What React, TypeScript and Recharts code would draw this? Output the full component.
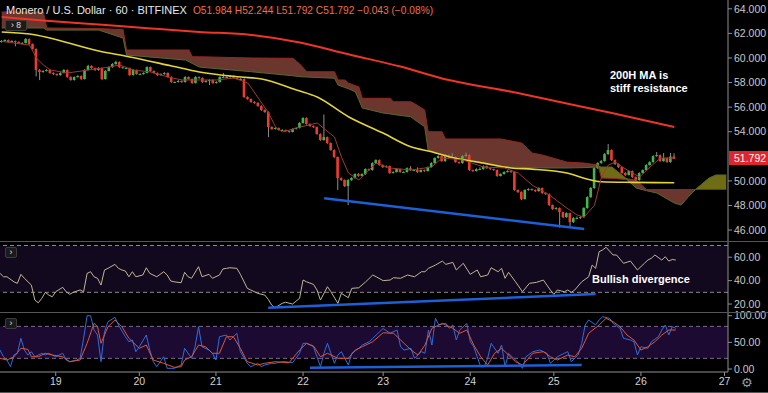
import React from "react";
import { ComposedChart, Bar, Line, Area, XAxis, YAxis, ReferenceArea, ReferenceLine } from "recharts";

// hourly slots, 0..209 (last candle at 194, cloud runs ahead to 209)
const SLOTS = 210;
const UP = "#3fb84b";
const DOWN = "#f03a2e";
const AXIS = "#8f8f8f";
const TICK = { fill: "#c9c9c9", fontSize: 10.5 };

const dayTicks = [16, 40, 62, 87, 110, 135, 159, 184, 208];
const dayLabels = ["19", "20", "21", "22", "23", "24", "25", "26", "27"];

const opens = [
  61.3, 61.38, 61.46, 61.3, 61.38, 61.3, 61.22, 61.22, 61.54, 61.13,
  60.73, 59.02, 58.86, 58.94, 59.02, 58.78, 58.69, 58.61, 58.78, 59.02,
  58.45, 58.21, 58.45, 58.53, 58.29, 59.02, 59.35, 59.18, 59.02, 59.18,
  58.29, 58.94, 59.26, 59.51, 59.67, 59.26, 59.18, 59.18, 58.61, 59.02,
  58.69, 58.69, 58.78, 59.26, 58.94, 58.78, 58.61, 58.69, 58.78, 58.45,
  58.04, 58.04, 58.13, 58.04, 58.45, 58.29, 57.96, 58.45, 58.37, 58.04,
  58.13, 58.21, 57.96, 58.04, 58.45, 58.45, 58.45, 58.53, 58.37, 58.29,
  58.29, 56.82, 56.66, 56.42, 56.34, 56.09, 55.77, 55.6, 54.38, 54.22,
  54.3, 54.14, 54.14, 54.06, 53.98, 54.22, 54.3, 54.71, 55.11, 54.63,
  54.46, 54.38, 53.81, 53.32, 53.56, 53.08, 52.51, 51.94, 50.23, 50.07,
  49.58, 50.07, 50.23, 50.56, 50.4, 50.56, 50.96, 50.88, 51.45, 51.69,
  51.29, 51.12, 51.2, 50.64, 50.72, 50.96, 50.72, 50.72, 51.04, 50.88,
  50.88, 50.72, 50.88, 50.8, 51.12, 51.45, 51.86, 52.02, 51.61, 52.1,
  51.94, 51.94, 51.53, 51.45, 52.02, 52.1, 50.88, 50.8, 50.96, 50.96,
  51.2, 51.04, 50.96, 50.88, 50.4, 50.56, 50.72, 50.8, 50.72, 49.26,
  49.09, 48.52, 49.26, 49.34, 49.26, 49.17, 49.42, 49.01, 48.93, 48.03,
  47.71, 47.79, 47.46, 47.05, 47.38, 46.64, 46.97, 46.97, 47.05, 47.79,
  48.68, 49.42, 51.04, 51.45, 51.61, 52.18, 52.51, 51.69, 51.37, 51.12,
  50.64, 50.48, 50.8, 50.31, 50.07, 50.64, 50.88, 51.29, 51.53, 52.02,
  52.1, 51.61, 51.86, 51.53, 51.98,
];

const closes = [
  61.38, 61.46, 61.3, 61.38, 61.3, 61.22, 61.22, 61.54, 61.13, 60.73,
  59.02, 58.86, 58.94, 59.02, 58.78, 58.69, 58.61, 58.78, 59.02, 58.45,
  58.21, 58.45, 58.53, 58.29, 59.02, 59.35, 59.18, 59.02, 59.18, 58.29,
  58.94, 59.26, 59.51, 59.67, 59.26, 59.18, 59.18, 58.61, 59.02, 58.69,
  58.69, 58.78, 59.26, 58.94, 58.78, 58.61, 58.69, 58.78, 58.45, 58.04,
  58.04, 58.13, 58.04, 58.45, 58.29, 57.96, 58.45, 58.37, 58.04, 58.13,
  58.21, 57.96, 58.04, 58.45, 58.45, 58.45, 58.53, 58.37, 58.29, 58.29,
  56.82, 56.66, 56.42, 56.34, 56.09, 55.77, 55.6, 54.38, 54.22, 54.3,
  54.14, 54.14, 54.06, 53.98, 54.22, 54.3, 54.71, 55.11, 54.63, 54.46,
  54.38, 53.81, 53.32, 53.56, 53.08, 52.51, 51.94, 50.23, 50.07, 49.58,
  50.07, 50.23, 50.56, 50.4, 50.56, 50.96, 50.88, 51.45, 51.69, 51.29,
  51.12, 51.2, 50.64, 50.72, 50.96, 50.72, 50.72, 51.04, 50.88, 50.88,
  50.72, 50.88, 50.8, 51.12, 51.45, 51.86, 52.02, 51.61, 52.1, 51.94,
  51.94, 51.53, 51.45, 52.02, 52.1, 50.88, 50.8, 50.96, 50.96, 51.2,
  51.04, 50.96, 50.88, 50.4, 50.56, 50.72, 50.8, 50.72, 49.26, 49.09,
  48.52, 49.26, 49.34, 49.26, 49.17, 49.42, 49.01, 48.93, 48.03, 47.71,
  47.79, 47.46, 47.05, 47.38, 46.64, 46.97, 46.97, 47.05, 47.79, 48.68,
  49.42, 51.04, 51.45, 51.61, 52.18, 52.51, 51.69, 51.37, 51.12, 50.64,
  50.48, 50.8, 50.31, 50.07, 50.64, 50.88, 51.29, 51.53, 52.02, 52.1,
  51.61, 51.86, 51.53, 51.98, 51.792,
];

const highs = [
  61.45, 61.52, 61.5, 61.44, 61.42, 61.35, 61.28, 61.62, 61.58, 61.18,
  60.78, 59.1, 59.0, 59.1, 59.08, 58.83, 58.74, 58.84, 59.1, 59.06,
  58.5, 58.5, 58.6, 58.58, 59.1, 59.45, 59.4, 59.22, 59.25, 59.22,
  59.0, 59.32, 59.58, 59.78, 59.72, 59.3, 59.24, 59.22, 59.08, 59.06,
  58.75, 58.84, 59.32, 59.3, 58.98, 58.82, 58.75, 58.84, 58.82, 58.5,
  58.1, 58.2, 58.17, 58.52, 58.5, 58.33, 58.52, 58.5, 58.42, 58.2,
  58.27, 58.25, 58.1, 58.52, 58.78, 58.52, 58.6, 58.58, 58.42, 58.36,
  58.34, 56.88, 56.7, 56.48, 56.4, 56.14, 55.82, 55.65, 54.44, 54.36,
  54.34, 54.2, 54.18, 54.1, 54.28, 54.36, 54.78, 55.18, 55.16, 54.68,
  54.5, 54.42, 53.86, 55.4, 53.6, 53.12, 52.56, 51.98, 50.28, 50.12,
  50.14, 50.3, 50.62, 50.62, 50.62, 51.02, 51.0, 51.52, 51.76, 51.74,
  51.34, 51.26, 51.24, 50.78, 51.02, 51.0, 50.78, 51.1, 51.2, 50.94,
  51.1, 50.94, 50.92, 51.18, 51.52, 51.92, 52.08, 52.06, 52.16, 52.14,
  52.25, 51.98, 51.58, 52.08, 52.3, 52.14, 50.92, 51.02, 51.1, 51.26,
  51.24, 51.08, 51.0, 50.92, 50.62, 50.78, 50.86, 50.84, 50.76, 49.3,
  49.14, 49.32, 49.4, 49.38, 49.3, 49.48, 49.46, 49.06, 48.98, 48.08,
  47.86, 47.84, 47.5, 47.44, 47.42, 47.04, 47.1, 47.12, 47.86, 48.75,
  49.5, 51.12, 51.52, 51.7, 52.26, 53.0, 52.56, 51.74, 51.42, 51.16,
  50.7, 50.86, 50.84, 50.36, 50.7, 50.94, 51.36, 51.6, 52.08, 52.35,
  52.14, 52.27, 51.9, 52.27, 52.244,
];

const lows = [
  61.25, 61.33, 61.25, 61.26, 60.95, 61.15, 61.15, 61.18, 61.08, 60.68,
  58.5, 58.2, 58.8, 58.9, 58.72, 58.62, 58.55, 58.56, 58.74, 58.4,
  58.15, 58.16, 58.4, 58.22, 58.24, 58.98, 59.12, 58.95, 58.96, 58.2,
  58.24, 58.9, 59.2, 59.45, 59.2, 59.12, 59.1, 58.55, 58.56, 58.64,
  58.62, 58.64, 58.74, 58.88, 58.72, 58.55, 58.56, 58.64, 58.4, 57.98,
  57.98, 58.0, 57.98, 58.0, 58.24, 57.9, 57.92, 58.3, 57.98, 58.0,
  57.8, 57.9, 57.92, 58.0, 58.4, 58.4, 58.4, 58.32, 58.24, 58.22,
  56.76, 56.6, 56.36, 56.28, 56.04, 55.7, 55.54, 53.56, 54.16, 54.18,
  54.08, 54.08, 54.0, 53.92, 53.94, 54.18, 54.26, 54.66, 54.58, 54.4,
  54.32, 53.76, 53.26, 53.28, 53.02, 52.45, 51.88, 49.26, 50.0, 49.5,
  48.03, 50.0, 50.18, 50.34, 50.36, 50.5, 50.82, 50.84, 51.4, 51.24,
  51.06, 51.08, 50.58, 50.6, 50.68, 50.66, 50.66, 50.68, 50.82, 50.82,
  50.66, 50.68, 50.74, 50.76, 51.08, 51.4, 51.82, 51.56, 51.56, 51.88,
  51.88, 51.48, 51.4, 51.4, 51.98, 50.82, 50.74, 50.76, 50.9, 50.92,
  50.98, 50.9, 50.82, 50.34, 50.36, 50.52, 50.68, 50.66, 49.2, 49.02,
  48.44, 48.48, 49.2, 49.2, 49.1, 49.12, 48.95, 48.86, 47.97, 47.64,
  47.66, 46.2, 46.98, 47.0, 46.3, 46.58, 46.9, 46.92, 47.0, 47.74,
  48.62, 49.36, 50.98, 51.4, 51.56, 52.12, 51.62, 51.3, 51.06, 50.58,
  50.42, 50.44, 50.25, 50.0, 50.02, 50.6, 50.84, 51.24, 51.48, 51.96,
  51.56, 51.56, 51.48, 51.48, 51.78,
];

// [slot, value]
const ma200: [number, number][] = [
  [0, 63.33], [12, 63.05], [28, 62.72], [43, 62.4], [57, 62.12], [72, 61.87], [86, 61.26],
  [100, 60.3], [115, 59.3], [129, 58.2], [147, 57.25], [161, 56.42], [176, 55.52], [194, 54.38],
];

const ma50: [number, number][] = [
  [0, 62.11], [8, 61.95], [28, 60.57], [37, 60.08], [49, 59.35], [57, 58.86], [69, 58.45],
  [75, 58.29], [85, 57.39], [91, 56.82], [100, 55.22], [110, 53.89], [118, 52.78], [124, 52.37],
  [129, 51.97], [139, 51.45], [147, 51.05], [153, 50.96], [163, 50.64], [170, 50.07],
  [173, 49.93], [182, 49.88], [194, 49.85],
];

const conversion: [number, number][] = [
  [0, 61.35], [8, 61.05], [10, 60.0], [12, 59.43], [14, 59.02], [19, 58.78], [25, 59.02],
  [31, 59.26], [34, 59.43], [38, 59.02], [43, 58.86], [48, 58.45], [52, 58.21], [57, 58.21],
  [62, 58.21], [67, 58.37], [71, 57.96], [74, 56.74], [77, 55.52], [79, 54.38], [81, 53.98],
  [86, 54.38], [91, 54.71], [96, 53.56], [98, 51.94], [100, 50.64], [103, 50.07], [105, 50.64],
  [108, 51.45], [112, 51.05], [118, 50.88], [124, 51.13], [127, 51.86], [133, 51.7],
  [139, 51.13], [145, 51.05], [149, 50.64], [153, 49.66], [158, 48.85], [163, 47.79],
  [166, 47.22], [168, 47.06], [171, 48.03], [173, 50.31], [175, 51.29], [177, 51.53],
  [179, 51.13], [182, 50.64], [184, 50.31], [187, 51.13], [190, 51.86], [194, 51.86],
];

// [slot, span A, span B]
const cloud: [number, number, number][] = [
  [0, 62.44, 63.74], [12, 62.44, 63.74], [13, 62.27, 62.44], [28, 62.27, 62.4], [35, 61.62, 62.3],
  [36, 60.24, 60.65], [53, 59.83, 60.65], [54, 59.7, 60.65], [55, 59.55, 60.1], [57, 59.26, 60.1],
  [72, 58.88, 60.0], [84, 58.55, 59.97], [86, 58.48, 59.5], [88, 58.45, 58.88], [96, 58.35, 58.88],
  [97, 57.8, 58.21], [99, 57.6, 58.21], [100, 57.5, 57.96], [102, 57.25, 57.75], [103, 56.6, 57.66],
  [104, 55.93, 56.72], [110, 55.52, 56.72], [112, 55.45, 56.72], [113, 55.4, 56.44],
  [118, 55.22, 56.44], [119, 55.0, 56.3], [122, 54.41, 55.77], [123, 52.51, 54.0],
  [127, 52.1, 54.0], [128, 52.0, 53.41], [129, 51.94, 53.41], [144, 51.13, 53.41],
  [150, 51.1, 53.08], [153, 51.08, 52.27], [156, 51.05, 52.1], [158, 51.05, 51.94],
  [163, 51.05, 51.53], [168, 51.08, 51.45], [172, 51.13, 51.29], [173, 51.13, 50.23],
  [176, 51.13, 50.2], [180, 50.23, 50.12], [183, 49.42, 50.07], [186, 49.2, 49.3],
  [189, 49.01, 49.3], [194, 48.2, 49.3], [196, 48.03, 49.3], [198, 48.69, 49.3],
  [200, 49.26, 49.3], [204, 50.23, 49.3], [206, 50.48, 49.3], [209, 50.48, 49.3],
];

const priceTrend: [number, number][] = [[93, 48.58], [168, 46.08]];

const rsi: [number, number][] = [
  [0, 46.2], [1, 43.3], [2, 43.3], [4, 39], [5, 37.7], [6, 45.4], [7, 42], [9, 36.2], [10, 23.4],
  [11, 21.1], [12, 24.9], [13, 30], [14, 27.7], [15, 26.2], [16, 30.5], [18, 34.3], [19, 30.5],
  [20, 28.3], [21, 30], [23, 32], [24, 30.5], [25, 46.2], [26, 47.6], [27, 43.3], [28, 42],
  [29, 36.2], [30, 49.1], [31, 50.5], [33, 53.9], [34, 50.5], [35, 49.1], [36, 48.2], [37, 43.3],
  [38, 47.6], [39, 43.3], [41, 44.8], [42, 51], [43, 46.2], [45, 43.3], [47, 47.6], [48, 44.8],
  [49, 39.7], [50, 39], [52, 38.2], [53, 47.1], [54, 43.3], [55, 42], [57, 51.9], [58, 43.3],
  [60, 45.4], [61, 42], [63, 44.8], [64, 50], [65, 50.5], [66, 51], [68, 50.5], [69, 45.4],
  [71, 33.4], [72, 32], [74, 29.1], [76, 27.7], [77, 24], [78, 19.1], [79, 16.8], [81, 20.6],
  [82, 21.5], [84, 20], [86, 24.9], [87, 40.5], [88, 39], [90, 36.8], [91, 32], [92, 23.4],
  [94, 34.8], [95, 30.5], [97, 20.6], [98, 29.1], [100, 25.4], [101, 33.4], [103, 33.9],
  [105, 39], [107, 44.8], [108, 43.3], [110, 40], [112, 40.5], [113, 42.5], [115, 42],
  [117, 44.8], [119, 43.3], [121, 47.6], [122, 47.6], [123, 50.5], [125, 53.3], [127, 56.7],
  [128, 53.9], [130, 55.6], [131, 49.1], [133, 54.8], [135, 45.4], [137, 49.1], [138, 43.3],
  [140, 44.8], [141, 51], [143, 47.6], [144, 50.5], [145, 42], [146, 47.1], [148, 39],
  [150, 30.5], [152, 37.7], [154, 38.5], [156, 40.5], [157, 36.2], [158, 32], [159, 28.3],
  [160, 32], [162, 30.5], [163, 32], [164, 30], [165, 32], [167, 39], [169, 43.3], [170, 53.3],
  [171, 50.5], [172, 64.7], [173, 66.2], [174, 68.5], [176, 61.9], [177, 61.9], [179, 54.8],
  [181, 56.7], [183, 49.1], [185, 54.8], [186, 57.6], [187, 59.1], [188, 61.9], [190, 57.6],
  [191, 60.4], [192, 56.7], [193, 58.1], [194, 57.6],
];
const rsiTrend: [number, number][] = [[77, 16.8], [171, 28.5]];

const stochK: [number, number][] = [
  [0, 35.6], [1, 23], [2, 16.9], [3, 4.3], [4, 26.3], [5, 29.5], [6, 57.6], [7, 35.6], [8, 26.3],
  [9, 32.5], [10, 23], [12, 29.5], [13, 26.3], [14, 29.5], [16, 23], [18, 29.5], [19, 16.9],
  [20, 13.7], [22, 16.9], [23, 20.1], [24, 57.6], [25, 100], [26, 100], [27, 73.2], [28, 63.8],
  [29, 13.7], [30, 70], [31, 88.7], [33, 97], [34, 82.6], [36, 60.6], [37, 51.2], [38, 54.4],
  [39, 32.5], [40, 41.8], [42, 63.8], [43, 35.6], [44, 13.7], [45, 4.3], [47, 23], [48, 1.3],
  [50, 1.3], [51, 4.3], [52, 7.5], [53, 38.8], [55, 20.1], [56, 41.8], [57, 79.4], [58, 41.8],
  [60, 35.6], [61, 29.5], [62, 16.9], [63, 60.6], [65, 63.8], [66, 54.4], [68, 67], [69, 32.5],
  [71, 10.7], [72, 4.3], [74, 10.7], [75, 4.3], [76, 7.5], [78, 10.7], [79, 10.7], [81, 13.7],
  [82, 13.7], [84, 11.8], [86, 29.5], [87, 48.2], [88, 48.2], [90, 41.8], [91, 23], [92, 4.3],
  [93, 29.5], [94, 48.2], [96, 10.7], [97, 26.3], [98, 32.5], [100, 7.5], [101, 29.5],
  [103, 38.8], [104, 45], [106, 51.2], [107, 57.6], [109, 70], [110, 76], [112, 67], [114, 73.2],
  [115, 41.8], [116, 35.6], [118, 38.8], [119, 20.1], [121, 32.5], [122, 29.5], [123, 73.2],
  [124, 45], [125, 95.1], [126, 82.6], [128, 85.7], [129, 76.4], [130, 82.6], [131, 54.4],
  [132, 73.2], [134, 85.7], [135, 51.2], [136, 41.8], [138, 4.3], [139, 4.3], [140, 20.1],
  [141, 48.2], [143, 29.5], [144, 45], [145, 4.3], [146, 29.5], [147, 23], [149, 10.7],
  [150, 1.3], [151, 23], [153, 32.5], [155, 35.6], [157, 29.5], [158, 10.7], [160, 23],
  [162, 29.5], [163, 32.5], [164, 13.7], [166, 26.3], [167, 48.2], [168, 82.6], [169, 92],
  [171, 82.6], [172, 92], [173, 98.1], [175, 95.1], [176, 85.7], [178, 76.4], [179, 57.6],
  [181, 54.4], [182, 51.2], [183, 26.3], [184, 41.8], [186, 38.8], [187, 51.2], [189, 60.6],
  [190, 73.2], [191, 82.6], [192, 63.8], [193, 79.4], [194, 76.4],
];

const stochD: [number, number][] = [
  [0, 20.1], [2, 16.9], [4, 23], [6, 38.8], [8, 36.9], [9, 23], [11, 23], [13, 29.5], [15, 26.3],
  [18, 23], [20, 13.7], [23, 16.9], [25, 48.2], [27, 85.7], [28, 79.4], [29, 48.2], [31, 79.4],
  [33, 92], [35, 79.4], [37, 57.6], [38, 51.2], [40, 38.8], [42, 45], [44, 16.9], [47, 10.7],
  [50, 3.2], [52, 4.3], [53, 16.9], [55, 23], [57, 45], [59, 41.8], [61, 29.5], [63, 29.5],
  [65, 60.6], [67, 60.6], [69, 38.8], [71, 13.7], [74, 7.5], [76, 10.7], [79, 13.7], [83, 11.8],
  [86, 35.6], [88, 48.2], [90, 43.2], [92, 23], [94, 29.5], [97, 20.1], [100, 20.1], [102, 35.6],
  [104, 41.8], [107, 51.2], [110, 68], [113, 67], [116, 48.2], [118, 35.6], [120, 26.3],
  [122, 45], [124, 76.4], [127, 85.7], [130, 76.4], [132, 67], [134, 73.2], [136, 45], [138, 23],
  [140, 7.5], [142, 29.5], [144, 38.8], [146, 26.3], [148, 13.7], [150, 7.5], [153, 29.5],
  [156, 32.5], [158, 23], [160, 16.9], [163, 26.3], [165, 23], [167, 38.8], [169, 67],
  [172, 82.6], [174, 95.1], [176, 88.7], [178, 79.4], [180, 63.8], [182, 54.4], [184, 35.6],
  [186, 41.8], [188, 51.2], [190, 63.8], [192, 73.2], [194, 73.2],
];
const stochTrend: [number, number][] = [[89, 2.4], [167, 7.5]];

// one row per hourly slot
const rows: any[] = Array.from({ length: SLOTS }, (_, i) => ({ i }));
closes.forEach((c, i) => {
  const o = opens[i];
  rows[i].o = o;
  rows[i].c = c;
  rows[i].wick = [lows[i], highs[i]];
  rows[i].body = [Math.min(o, c), Math.max(o, c)];
});
const put = (key: string, pts: [number, number][]) =>
  pts.forEach(([i, v]) => {
    rows[i][key] = v;
  });
put("ma200", ma200);
put("ma50", ma50);
put("conv", conversion);
put("trend", priceTrend);
put("rsi", rsi);
put("rsiTrend", rsiTrend);
put("k", stochK);
put("d", stochD);
put("kTrend", stochTrend);
cloud.forEach(([i, a, b]) => {
  rows[i].spanA = a;
  rows[i].spanB = b;
  rows[i].bear = [Math.min(a, b), b];
  rows[i].bull = [b, Math.max(a, b)];
});

const Body = (p: any) => {
  if (!p.payload || p.payload.c == null || !isFinite(p.y)) return <g />;
  const y = Math.min(p.y, p.y + p.height);
  const h = Math.max(Math.abs(p.height), 1);
  return <rect x={p.x} y={y} width={p.width} height={h} fill={p.payload.c >= p.payload.o ? UP : DOWN} />;
};

const Wick = (p: any) => {
  if (!p.payload || p.payload.c == null || !isFinite(p.y)) return <g />;
  const y = Math.min(p.y, p.y + p.height);
  return <rect x={p.x + p.width / 2 - 0.5} y={y} width={1} height={Math.abs(p.height)} fill="#8d8d8d" />;
};

const box = (left: number, top: number, w: number, h: number, text: string) => (
  <div
    style={{
      position: "absolute", left, top, width: w, height: h, background: "#1b1b1b",
      border: "1px solid #3c3c3c", borderRadius: 2, color: "#e0e0e0", fontSize: 8.5,
      lineHeight: `${h - 2}px`, textAlign: "center", boxSizing: "border-box",
    }}
  >
    {text}
  </div>
);

const line = (top: number) => (
  <div style={{ position: "absolute", left: 0, top, width: 768, height: 1, background: "#555" }} />
);

const pane = (top: number): React.CSSProperties => ({ position: "absolute", left: 0, top, pointerEvents: "none" });

export default function App() {
  return (
    <div
      style={{
        position: "fixed", left: 0, top: 0, width: 768, height: 393, background: "#000",
        overflow: "hidden", fontFamily: "'Liberation Sans', Arial, sans-serif",
      }}
    >
      <div style={pane(0)}>
        <ComposedChart width={768} height={241} data={rows} margin={{ top: 0, right: 0, bottom: 0, left: 0 }}>
          <XAxis xAxisId="a" dataKey="i" hide />
          <XAxis xAxisId="b" dataKey="i" hide />
          <YAxis
            orientation="right" width={40} domain={[45.11, 64.716]} allowDataOverflow
            ticks={[46, 48, 50, 54, 56, 58, 60, 62, 64]} interval={0}
            tickFormatter={(v: number) => v.toFixed(3)} tick={TICK} tickSize={4}
            axisLine={{ stroke: AXIS }} tickLine={{ stroke: AXIS }}
          />
          <Area xAxisId="a" type="linear" dataKey="bear" fill="#6a362d" fillOpacity={1} stroke="none" connectNulls activeDot={false} isAnimationActive={false} />
          <Area xAxisId="a" type="linear" dataKey="bull" fill="#6e6c14" fillOpacity={1} stroke="none" connectNulls activeDot={false} isAnimationActive={false} />
          <Line xAxisId="a" type="linear" dataKey="spanB" stroke="#93271f" strokeWidth={1} dot={false} activeDot={false} connectNulls isAnimationActive={false} />
          <Line xAxisId="a" type="linear" dataKey="spanA" stroke="#56692a" strokeWidth={1} dot={false} activeDot={false} connectNulls isAnimationActive={false} />
          <Line xAxisId="a" type="monotone" dataKey="ma200" stroke="#ef3428" strokeWidth={2} dot={false} activeDot={false} connectNulls isAnimationActive={false} />
          <Line xAxisId="a" type="monotone" dataKey="ma50" stroke="#e3d43a" strokeWidth={1.6} dot={false} activeDot={false} connectNulls isAnimationActive={false} />
          <Line xAxisId="a" type="linear" dataKey="conv" stroke="#9a3b33" strokeWidth={1} dot={false} activeDot={false} connectNulls isAnimationActive={false} />
          <Bar xAxisId="a" dataKey="wick" barSize={3} shape={Wick} activeBar={false} isAnimationActive={false} />
          <Bar xAxisId="b" dataKey="body" barSize={2.6} shape={Body} activeBar={false} isAnimationActive={false} />
          <Line xAxisId="a" type="linear" dataKey="trend" stroke="#1d5fd6" strokeWidth={2.5} dot={false} activeDot={false} connectNulls isAnimationActive={false} />
        </ComposedChart>
      </div>

      <div style={pane(242)}>
        <ComposedChart width={768} height={70} data={rows} margin={{ top: 0, right: 0, bottom: 0, left: 0 }}>
          <XAxis dataKey="i" hide />
          <YAxis
            orientation="right" width={40} domain={[13.2, 73]} allowDataOverflow
            ticks={[20, 40, 60]} interval={0} tickFormatter={(v: number) => v.toFixed(2)}
            tick={TICK} tickSize={4} axisLine={{ stroke: AXIS }} tickLine={{ stroke: AXIS }}
          />
          <ReferenceArea y1={30} y2={70} fill="#13091f" fillOpacity={1} stroke="none" />
          <ReferenceLine y={70} stroke="#8a8a8a" strokeDasharray="4 3" />
          <ReferenceLine y={30} stroke="#8a8a8a" strokeDasharray="4 3" />
          <Line type="linear" dataKey="rsi" stroke="#bdb594" strokeWidth={1} dot={false} activeDot={false} connectNulls isAnimationActive={false} />
          <Line type="linear" dataKey="rsiTrend" stroke="#1d5fd6" strokeWidth={2.5} dot={false} activeDot={false} connectNulls isAnimationActive={false} />
        </ComposedChart>
      </div>

      <div style={pane(309)}>
        <ComposedChart width={768} height={83} data={rows} margin={{ top: 4, right: 0, bottom: 0, left: 0 }}>
          <XAxis
            dataKey="i" height={20} ticks={dayTicks} interval={0}
            tickFormatter={(v: number) => dayLabels[dayTicks.indexOf(v)] ?? ""}
            tick={{ fill: "#d2d2d2", fontSize: 10.5 }} tickSize={4}
            axisLine={{ stroke: AXIS }} tickLine={{ stroke: AXIS }}
          />
          <YAxis
            orientation="right" width={40} domain={[-5.6, 105.1]} allowDataOverflow
            ticks={[0, 50, 100]} interval={0} tickFormatter={(v: number) => v.toFixed(2)}
            tick={TICK} tickSize={4} axisLine={{ stroke: AXIS }} tickLine={{ stroke: AXIS }}
          />
          <ReferenceArea y1={20} y2={80} fill="#1d0a33" fillOpacity={1} stroke="none" />
          <ReferenceLine y={80} stroke="#7d6a8a" strokeDasharray="4 3" />
          <ReferenceLine y={20} stroke="#7d6a8a" strokeDasharray="4 3" />
          <Line type="linear" dataKey="k" stroke="#2b6ee0" strokeWidth={1} dot={false} activeDot={false} connectNulls isAnimationActive={false} />
          <Line type="linear" dataKey="d" stroke="#e2562c" strokeWidth={1} dot={false} activeDot={false} connectNulls isAnimationActive={false} />
          <Line type="linear" dataKey="kTrend" stroke="#1d5fd6" strokeWidth={2.5} dot={false} activeDot={false} connectNulls isAnimationActive={false} />
        </ComposedChart>
      </div>

      {line(241)}
      {line(312)}
      {line(392)}

      <div style={{ position: "absolute", left: 6, top: 4, fontSize: 11, color: "#e8e8e8", whiteSpace: "nowrap" }}>
        Monero / U.S. Dollar · 60 · BITFINEX
        <span style={{ color: "#ef6f4a", marginLeft: 6, fontSize: 10.2 }}>O51.984 H52.244 L51.792 C51.792 −0.043 (−0.08%)</span>
      </div>
      {box(5, 20, 22, 11, "› 8")}
      {box(5, 247, 12, 11, "›")}
      {box(5, 318, 12, 11, "›")}

      <div style={{ position: "absolute", left: 610, top: 69, fontSize: 11, fontWeight: 700, color: "#fff", lineHeight: "13px" }}>
        200H MA is
        <br />
        stiff resistance
      </div>
      <div style={{ position: "absolute", left: 592, top: 273, fontSize: 11, fontWeight: 700, color: "#fff" }}>
        Bullish divergence
      </div>

      <div
        style={{
          position: "absolute", left: 729, top: 151, width: 39, height: 14, background: "#e0262b",
          color: "#fff", fontSize: 10.5, lineHeight: "14px", paddingLeft: 5, boxSizing: "border-box",
        }}
      >
        51.792
      </div>
      <div style={{ position: "absolute", left: 741, top: 375, fontSize: 13, color: "#9a9a9a", fontFamily: "'DejaVu Sans'" }}>
        ⚙
      </div>
    </div>
  );
}
